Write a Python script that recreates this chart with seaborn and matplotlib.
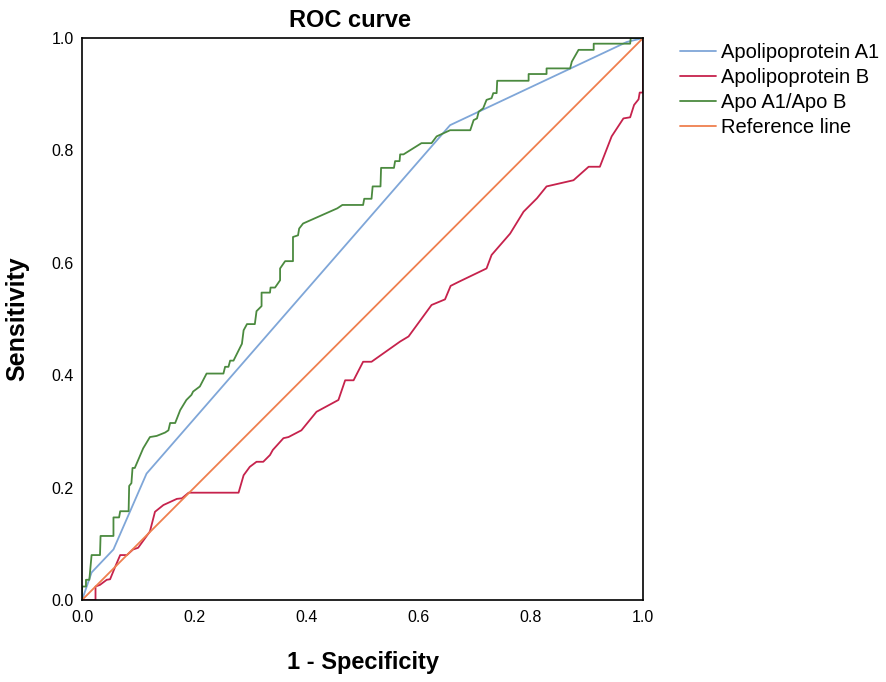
import numpy as np
import pandas as pd
import seaborn as sns
import matplotlib
matplotlib.use("Agg")
import matplotlib.pyplot as plt

# ROC points (1 - specificity, sensitivity)
apoa1_fpr = [0.0, 0.017, 0.056, 0.115, 0.656, 0.971, 1.0]
apoa1_tpr = [0.0, 0.049, 0.09, 0.225, 0.845, 0.993, 1.0]

apob_fpr = [0.0, 0.024, 0.024, 0.032, 0.044, 0.05, 0.059, 0.068, 0.08, 0.091, 0.1,
            0.121, 0.13, 0.145, 0.169, 0.178, 0.19, 0.279, 0.288, 0.299, 0.311,
            0.323, 0.335, 0.34, 0.359, 0.368, 0.391, 0.418, 0.457, 0.469, 0.484,
            0.501, 0.516, 0.567, 0.582, 0.623, 0.647, 0.657, 0.671, 0.721, 0.73,
            0.763, 0.787, 0.811, 0.828, 0.876, 0.903, 0.923, 0.944, 0.965, 0.977,
            0.984, 0.992, 0.994, 1.0, 1.0]
apob_tpr = [0.0, 0.0, 0.024, 0.027, 0.036, 0.037, 0.059, 0.08, 0.08, 0.09, 0.093,
            0.122, 0.157, 0.169, 0.18, 0.181, 0.191, 0.191, 0.222, 0.237, 0.246,
            0.246, 0.258, 0.267, 0.288, 0.29, 0.302, 0.335, 0.356, 0.391, 0.391,
            0.424, 0.424, 0.46, 0.469, 0.525, 0.535, 0.559, 0.566, 0.59, 0.614,
            0.652, 0.691, 0.715, 0.736, 0.747, 0.771, 0.771, 0.825, 0.857, 0.859,
            0.881, 0.891, 0.903, 0.903, 1.0]

ratio_fpr = [0.0, 0.0, 0.007, 0.007, 0.013, 0.017, 0.032, 0.033, 0.056, 0.056, 0.066,
             0.068, 0.083, 0.084, 0.088, 0.09, 0.094, 0.109, 0.121, 0.133, 0.148,
             0.154, 0.157, 0.166, 0.175, 0.186, 0.195, 0.198, 0.21, 0.222, 0.252,
             0.255, 0.261, 0.264, 0.27, 0.285, 0.288, 0.294, 0.308, 0.311, 0.32,
             0.32, 0.335, 0.336, 0.344, 0.353, 0.353, 0.362, 0.376, 0.376, 0.385,
             0.387, 0.394, 0.455, 0.464, 0.501, 0.503, 0.516, 0.518, 0.532, 0.533,
             0.556, 0.558, 0.566, 0.567, 0.573, 0.605, 0.623, 0.632, 0.656, 0.692,
             0.698, 0.704, 0.707, 0.715, 0.721, 0.73, 0.733, 0.739, 0.74, 0.796,
             0.796, 0.828, 0.828, 0.87, 0.873, 0.885, 0.912, 0.912, 0.977, 0.978, 1.0]
ratio_tpr = [0.0, 0.024, 0.024, 0.036, 0.036, 0.08, 0.08, 0.114, 0.114, 0.147, 0.147,
             0.158, 0.158, 0.203, 0.208, 0.235, 0.235, 0.27, 0.29, 0.292, 0.298,
             0.302, 0.315, 0.315, 0.338, 0.356, 0.365, 0.371, 0.38, 0.403, 0.403,
             0.415, 0.415, 0.426, 0.426, 0.456, 0.48, 0.491, 0.491, 0.514, 0.523,
             0.547, 0.547, 0.556, 0.556, 0.569, 0.59, 0.603, 0.603, 0.646, 0.649,
             0.661, 0.67, 0.697, 0.703, 0.703, 0.714, 0.714, 0.736, 0.736, 0.769,
             0.769, 0.781, 0.781, 0.793, 0.793, 0.813, 0.813, 0.825, 0.836, 0.836,
             0.854, 0.857, 0.869, 0.875, 0.89, 0.893, 0.902, 0.902, 0.924, 0.924,
             0.936, 0.936, 0.946, 0.946, 0.958, 0.979, 0.979, 0.99, 0.99, 1.0, 1.0]

ref_fpr = [0.0, 1.0]
ref_tpr = [0.0, 1.0]

names = ["Apolipoprotein A1", "Apolipoprotein B", "Apo A1/Apo B", "Reference line"]
colors = ["#7fa6d8", "#c6224c", "#4b8a3f", "#ef7f4e"]
ticks = [0.0, 0.2, 0.4, 0.6, 0.8, 1.0]
tick_labels = ["0.0", "0.2", "0.4", "0.6", "0.8", "1.0"]

parts = []
for name, fx, fy in zip(names, [apoa1_fpr, apob_fpr, ratio_fpr, ref_fpr],
                        [apoa1_tpr, apob_tpr, ratio_tpr, ref_tpr]):
    parts.append(pd.DataFrame({"fpr": fx, "tpr": fy, "curve": name}))
df = pd.concat(parts, ignore_index=True)

sns.set_style("white")
plt.rcParams["font.family"] = ["Liberation Sans", "DejaVu Sans"]
plt.rcParams["text.color"] = "black"
plt.rcParams["axes.labelcolor"] = "black"
plt.rcParams["xtick.color"] = "black"
plt.rcParams["ytick.color"] = "black"

fig = plt.figure(figsize=(8.86, 6.82), dpi=100)
ax = fig.add_axes([0.0926, 0.1202, 0.6332, 0.8240])

for name, c in zip(names, colors):
    sub = df[df["curve"] == name]
    sns.lineplot(x=sub["fpr"], y=sub["tpr"], sort=False, estimator=None,
                 color=c, lw=1.3, ax=ax, label=name)

ax.set_xlim(0, 1)
ax.set_ylim(0, 1)
ax.set_xticks(ticks)
ax.set_yticks(ticks)
ax.set_xticklabels(tick_labels)
ax.set_yticklabels(tick_labels)
ax.tick_params(length=0, labelsize=11.5)
ax.tick_params(axis="x", pad=7)
ax.tick_params(axis="y", pad=6)
for s in ax.spines.values():
    s.set_color("black")
    s.set_linewidth(1.2)

ax.set_title("ROC curve", fontsize=17, fontweight="bold", pad=8, x=0.478)
ax.set_xlabel("1 - Specificity", fontsize=17, fontweight="bold", labelpad=19)
ax.set_ylabel("Sensitivity", fontsize=18, fontweight="bold", labelpad=16)

ax.legend(loc="upper left", bbox_to_anchor=(1.052, 1.005), frameon=False,
          fontsize=14.5, handlelength=1.75, handletextpad=0.25, labelspacing=0.3,
          borderaxespad=0)

fig.savefig("out.png", dpi=100)
